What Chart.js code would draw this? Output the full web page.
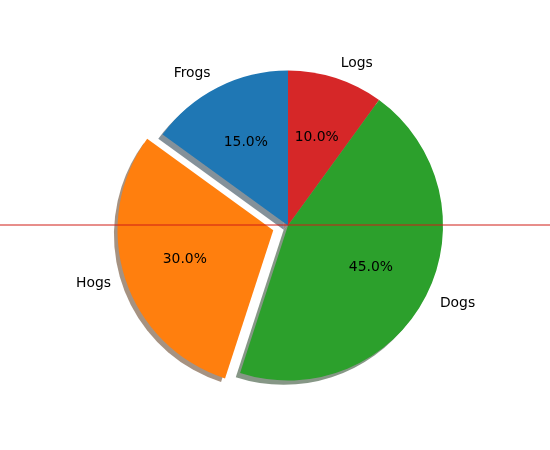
<!DOCTYPE html>
<html>
<head>
<meta charset="utf-8">
<script src="https://cdn.jsdelivr.net/npm/chart.js@4"></script>
<style>
html,body{margin:0;padding:0;background:#fff;}
#wrap{width:550px;height:450px;}
</style>
</head>
<body>
<div id="wrap"><canvas id="c" width="550" height="450"></canvas></div>
<script>
// Data (matplotlib order is counter-clockwise; Chart.js draws clockwise, so reversed)
const categories = ['Logs', 'Dogs', 'Hogs', 'Frogs'];
const values = [10, 45, 30, 15];
const colors = ['#d62728', '#2ca02c', '#ff7f0e', '#1f77b4'];
const explode = [0, 0, 0.1, 0];

const R = 155;
const FONT = '13.9px "DejaVu Sans", sans-serif';

function hexToRgb(h){
  const n = parseInt(h.slice(1), 16);
  return [(n >> 16) & 255, (n >> 8) & 255, n & 255];
}

function arcOffset(el){
  const off = (el.options.offset || 0) / 4;
  const mid = (el.startAngle + el.endAngle) / 2;
  return {dx: Math.cos(mid) * off, dy: Math.sin(mid) * off, mid};
}

const shadowPlugin = {
  id: 'shadow',
  beforeDatasetsDraw(chart){
    const ctx = chart.ctx;
    const meta = chart.getDatasetMeta(0);
    const sh = R * 0.02 * (100 / 72);
    meta.data.forEach((el, i) => {
      const {dx, dy} = arcOffset(el);
      const rgb = hexToRgb(colors[i]).map(v => Math.round(v * 0.3));
      ctx.save();
      ctx.fillStyle = `rgba(${rgb[0]},${rgb[1]},${rgb[2]},0.5)`;
      ctx.beginPath();
      const cx = el.x + dx - sh, cy = el.y + dy + sh;
      ctx.moveTo(cx, cy);
      ctx.arc(cx, cy, el.outerRadius, el.startAngle, el.endAngle);
      ctx.closePath();
      ctx.fill();
      ctx.restore();
    });
  }
};

const labelPlugin = {
  id: 'pieLabels',
  afterDatasetsDraw(chart){
    const ctx = chart.ctx;
    const meta = chart.getDatasetMeta(0);
    const total = values.reduce((a, b) => a + b, 0);
    // red horizontal line through the pie centre
    const c0 = meta.data[0];
    const ly0 = Math.round(c0.y - 0.5);
    ctx.save();
    ctx.strokeStyle = '#d01c16';
    ctx.lineWidth = 1;
    ctx.beginPath();
    ctx.moveTo(0, ly0);
    ctx.lineTo(chart.width, ly0);
    ctx.stroke();
    ctx.restore();

    meta.data.forEach((el, i) => {
      const {dx, dy, mid} = arcOffset(el);
      const cx = el.x + dx, cy = el.y + dy;
      const r = el.outerRadius;
      ctx.save();
      ctx.font = FONT;
      ctx.fillStyle = '#000';
      ctx.textBaseline = 'middle';
      // percentage
      ctx.textAlign = 'center';
      const pct = (values[i] / total * 100).toFixed(1) + '%';
      ctx.fillText(pct, cx + Math.cos(mid) * r * 0.6, cy + Math.sin(mid) * r * 0.6);
      // category label
      const lx = cx + Math.cos(mid) * r * 1.1;
      const ly = cy + Math.sin(mid) * r * 1.1;
      ctx.textAlign = Math.cos(mid) < 0 ? 'right' : 'left';
      ctx.fillText(categories[i], lx, ly);
      ctx.restore();
    });
  }
};

new Chart(document.getElementById('c'), {
  type: 'pie',
  data: {
    labels: categories,
    datasets: [{
      data: values,
      backgroundColor: colors,
      borderWidth: 0,
      offset: explode.map(e => e * R * 4),
      hoverOffset: 0
    }]
  },
  options: {
    responsive: false,
    animation: false,
    devicePixelRatio: 1,
    radius: R,
    rotation: 0,
    layout: {padding: {left: 26, right: 0, top: 1, bottom: 0}},
    plugins: {legend: {display: false}, tooltip: {enabled: false}},
    events: []
  },
  plugins: [shadowPlugin, labelPlugin]
});
</script>
</body>
</html>
